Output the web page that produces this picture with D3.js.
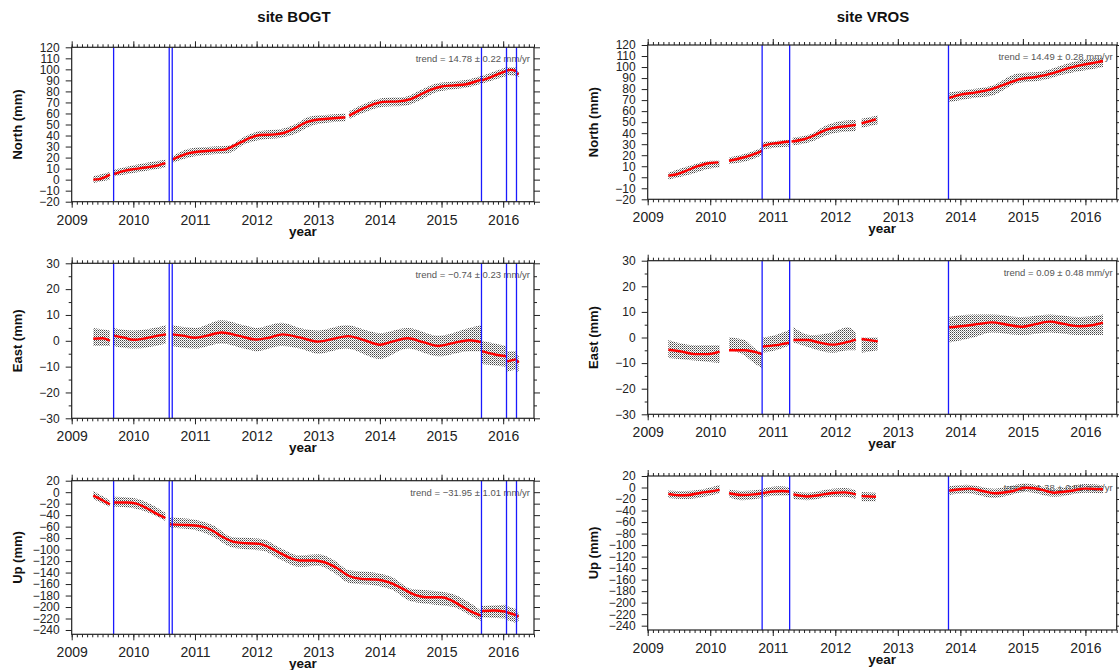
<!DOCTYPE html>
<html>
<head>
<meta charset="utf-8">
<script src="https://cdn.jsdelivr.net/npm/d3@7"></script>
<style>
  body { margin: 0; background: #fff; }
  svg { display: block; font-family: "Liberation Sans", Arial, sans-serif; }
</style>
</head>
<body>
<script>
// ---- data: fit curves [year, mm] and scatter envelopes [year, lo, hi], one array per segment ----
let bogtBreaks = [2009.68, 2010.582, 2010.631, 2015.648, 2016.054, 2016.216];
let vrosBreaks = [2010.83, 2011.27, 2013.81];

let bogtNorthFit = [
  [[2009.35, 0], [2009.45, 0.5], [2009.62, 4.5]],
  [[2009.68, 5], [2009.85, 8], [2010.0, 9.5], [2010.2, 11], [2010.4, 13], [2010.52, 15]],
  [[2010.63, 18], [2010.75, 21], [2010.9, 24], [2011.08, 25.5], [2011.3, 26.5], [2011.5, 27.5], [2011.6, 30], [2011.75, 34], [2011.9, 38], [2012.05, 40.5], [2012.3, 41], [2012.45, 42.5], [2012.6, 46], [2012.8, 52], [2013.0, 54.5], [2013.2, 55.5], [2013.44, 56.5]],
  [[2013.5, 58], [2013.6, 61], [2013.75, 65], [2013.9, 68.5], [2014.05, 70.5], [2014.3, 71], [2014.5, 73], [2014.65, 77], [2014.85, 82], [2015.0, 84.5], [2015.2, 85.5], [2015.4, 86.5], [2015.55, 89], [2015.64, 90.5]],
  [[2015.65, 90], [2015.8, 93], [2016.0, 97.5], [2016.05, 98.5]],
  [[2016.055, 99], [2016.12, 99.5], [2016.21, 98.5]],
  [[2016.22, 96.5], [2016.25, 95.5]]
];
let bogtNorthBand = [
  [[2009.35, -3, 3], [2009.62, 0, 7]],
  [[2009.68, 3, 9], [2010.0, 6, 13], [2010.52, 11, 18]],
  [[2010.63, 15, 21], [2010.9, 20, 28], [2011.3, 23, 30], [2011.55, 24, 31], [2011.8, 32, 39], [2012.05, 36, 44], [2012.4, 38, 46], [2012.65, 42, 51], [2012.85, 48, 57], [2013.2, 52, 59], [2013.44, 53, 60]],
  [[2013.5, 55, 62], [2013.8, 62, 70], [2014.05, 66, 74], [2014.4, 67, 75], [2014.65, 72, 81], [2014.9, 79, 87], [2015.2, 82, 89], [2015.45, 84, 91], [2015.64, 87, 94]],
  [[2015.65, 87, 94], [2016.05, 94, 102]],
  [[2016.055, 95, 102], [2016.21, 94, 102]],
  [[2016.22, 93, 99], [2016.25, 93, 98]]
];

let bogtEastFit = [
  [[2009.35, 0.8], [2009.5, 1], [2009.62, 0]],
  [[2009.68, 2], [2009.85, 1.2], [2010.0, 0.4], [2010.2, 1], [2010.4, 2], [2010.53, 2.5]],
  [[2010.63, 2.5], [2010.8, 2], [2011.0, 1.2], [2011.2, 2], [2011.43, 3.2], [2011.7, 2], [2012.0, 0.5], [2012.2, 1.2], [2012.42, 2.5], [2012.7, 1.3], [2013.0, -0.3], [2013.25, 0.8], [2013.48, 1.8], [2013.75, 0.2], [2014.0, -1.5], [2014.2, -0.3], [2014.45, 1], [2014.7, -0.5], [2014.95, -2], [2015.2, -0.8], [2015.45, 0.2], [2015.64, -0.5]],
  [[2015.65, -4], [2015.85, -5.2], [2016.05, -6]],
  [[2016.055, -8], [2016.15, -7.5], [2016.21, -7.2]],
  [[2016.22, -7.5], [2016.25, -8.5]]
];
let bogtEastBand = [
  [[2009.35, -2, 5], [2009.62, -2, 4]],
  [[2009.68, -2, 5], [2010.0, -3, 4], [2010.53, -1, 6]],
  [[2010.63, -2, 6], [2011.0, -3, 5], [2011.43, -1, 8], [2011.8, -3, 6], [2012.0, -4, 5], [2012.4, -2, 7], [2012.7, -3, 5], [2013.0, -5, 4], [2013.45, -3, 6], [2014.0, -7, 3], [2014.45, -3, 5], [2014.95, -6, 2], [2015.45, -4, 5], [2015.64, -4, 6]],
  [[2015.65, -9, 0], [2016.05, -10, -2]],
  [[2016.055, -12, -4], [2016.21, -11, -4]],
  [[2016.22, -12, -5], [2016.25, -12, -6]]
];

let bogtUpFit = [
  [[2009.35, -6], [2009.5, -14], [2009.62, -21]],
  [[2009.68, -18], [2009.9, -18], [2010.05, -20], [2010.2, -27], [2010.35, -36], [2010.52, -45]],
  [[2010.59, -56], [2010.8, -57], [2011.0, -58], [2011.15, -61], [2011.3, -68], [2011.45, -78], [2011.65, -87], [2011.85, -89], [2012.05, -90], [2012.2, -96], [2012.4, -107], [2012.55, -115], [2012.7, -119], [2012.95, -119], [2013.1, -122], [2013.3, -132], [2013.5, -146], [2013.7, -151], [2013.95, -152], [2014.15, -157], [2014.35, -167], [2014.55, -178], [2014.75, -183], [2015.0, -183], [2015.15, -188], [2015.35, -200], [2015.5, -209], [2015.64, -215]],
  [[2015.65, -207], [2015.85, -206], [2016.05, -208]],
  [[2016.055, -209], [2016.21, -214]],
  [[2016.22, -215], [2016.25, -217]]
];
let bogtUpBand = [
  [[2009.35, -12, 2], [2009.62, -26, -14]],
  [[2009.68, -25, -8], [2010.0, -28, -10], [2010.3, -38, -22], [2010.52, -50, -36]],
  [[2010.59, -62, -44], [2011.0, -66, -48], [2011.3, -78, -58], [2011.6, -96, -78], [2011.9, -100, -80], [2012.1, -102, -82], [2012.4, -118, -98], [2012.7, -130, -110], [2013.0, -128, -108], [2013.25, -140, -118], [2013.5, -158, -136], [2013.9, -162, -140], [2014.2, -170, -148], [2014.5, -190, -168], [2014.9, -196, -172], [2015.2, -200, -178], [2015.45, -214, -192], [2015.64, -224, -206]],
  [[2015.65, -218, -198], [2016.05, -220, -196]],
  [[2016.055, -222, -198], [2016.21, -228, -204]],
  [[2016.22, -225, -208], [2016.25, -225, -210]]
];

let vrosNorthFit = [
  [[2009.33, 1.5], [2009.45, 2.5], [2009.6, 5.5], [2009.8, 10], [2009.95, 12.5], [2010.13, 13.5]],
  [[2010.3, 15], [2010.5, 17.5], [2010.7, 21], [2010.83, 24]],
  [[2010.835, 28.5], [2011.0, 30.5], [2011.27, 32.5]],
  [[2011.3, 32.5], [2011.5, 34.5], [2011.7, 39], [2011.85, 43], [2012.0, 45], [2012.2, 46.5], [2012.33, 47.5]],
  [[2012.42, 49], [2012.55, 51], [2012.65, 52.5]],
  [[2013.82, 72], [2014.0, 75], [2014.25, 77], [2014.5, 80], [2014.7, 84], [2014.95, 89], [2015.2, 91], [2015.45, 94], [2015.7, 98.5], [2015.95, 102], [2016.2, 104.5], [2016.28, 105.5]]
];
let vrosNorthBand = [
  [[2009.33, -2, 4], [2009.7, 3, 11], [2010.0, 8, 15], [2010.15, 9, 15]],
  [[2010.3, 12, 18], [2010.6, 15, 22], [2010.83, 20, 27]],
  [[2010.835, 25, 32], [2011.05, 27, 33], [2011.27, 28, 34]],
  [[2011.32, 29, 36], [2011.6, 32, 39], [2011.85, 38, 47], [2012.1, 41, 51], [2012.33, 42, 52]],
  [[2012.42, 45, 53], [2012.68, 48, 56]],
  [[2013.82, 68, 77], [2014.2, 72, 80], [2014.5, 74, 83], [2014.9, 85, 94], [2015.3, 88, 96], [2015.7, 94, 103], [2016.0, 97, 107], [2016.28, 100, 108]]
];

let vrosEastFit = [
  [[2009.33, -4.8], [2009.55, -5.5], [2009.75, -6.5], [2009.95, -6.5], [2010.15, -5.5]],
  [[2010.3, -5], [2010.55, -5], [2010.83, -6.5]],
  [[2010.84, -3.5], [2011.05, -3], [2011.27, -2]],
  [[2011.33, -1], [2011.55, -1], [2011.75, -2], [2011.95, -2.8], [2012.15, -2], [2012.33, -0.8]],
  [[2012.42, -0.6], [2012.68, -1.5]],
  [[2013.82, 4], [2014.05, 4.5], [2014.3, 5.3], [2014.5, 5.9], [2014.75, 5], [2014.97, 4.2], [2015.2, 5.2], [2015.43, 6.2], [2015.65, 5.3], [2015.9, 4.4], [2016.1, 4.8], [2016.28, 5.8]]
];
let vrosEastBand = [
  [[2009.33, -8, -1], [2009.75, -9, -3], [2010.15, -10, -3]],
  [[2010.3, -5, 0], [2010.55, -7, -1], [2010.7, -10, -4], [2010.83, -12, -6]],
  [[2010.84, -6, 0], [2011.05, -5, 1], [2011.27, -3, 3]],
  [[2011.33, -2, 4], [2011.6, -4, 1], [2011.95, -6, 2], [2012.2, -5, 4], [2012.33, -5, 2]],
  [[2012.42, -6, 0], [2012.68, -5, 0]],
  [[2013.82, -2, 8], [2014.2, 0, 9], [2014.5, 2, 9], [2014.97, 1, 8], [2015.43, 2, 9], [2015.9, 1, 8], [2016.28, 1, 9]]
];

let vrosUpFit = [
  [[2009.33, -11], [2009.5, -13.5], [2009.65, -13], [2009.85, -9], [2010.0, -7], [2010.15, -4]],
  [[2010.3, -10], [2010.5, -13], [2010.7, -12], [2010.83, -10]],
  [[2010.835, -10], [2011.0, -7], [2011.15, -6], [2011.27, -7]],
  [[2011.33, -12], [2011.55, -15.5], [2011.75, -13], [2011.95, -9.5], [2012.15, -8.5], [2012.33, -12]],
  [[2012.42, -15], [2012.65, -16]],
  [[2013.82, -5.5], [2014.0, -3], [2014.15, -2], [2014.35, -6], [2014.55, -10], [2014.8, -7], [2015.05, -0.5], [2015.25, -2.5], [2015.5, -9], [2015.75, -6], [2016.0, -2], [2016.28, -3]]
];
let vrosUpBand = [
  [[2009.33, -18, -5], [2009.6, -20, -6], [2010.0, -14, 0], [2010.15, -10, 5]],
  [[2010.3, -17, -4], [2010.5, -22, -6], [2010.83, -18, -3]],
  [[2010.835, -17, -2], [2011.1, -14, 2], [2011.27, -14, 0]],
  [[2011.33, -20, -6], [2011.55, -22, -9], [2011.95, -16, -2], [2012.15, -16, -1], [2012.33, -20, -5]],
  [[2012.42, -24, -8], [2012.65, -24, -9]],
  [[2013.82, -13, 2], [2014.1, -10, 5], [2014.55, -18, -2], [2015.05, -8, 7], [2015.5, -16, -2], [2016.0, -9, 6], [2016.28, -10, 4]]
];

let sites = ["site BOGT", "site VROS"];
let trends = [
  ["trend = 14.78 \u00b1 0.22 mm/yr", "trend = \u22120.74 \u00b1 0.23 mm/yr", "trend = \u221231.95 \u00b1 1.01 mm/yr"],
  ["trend = 14.49 \u00b1 0.28 mm/yr", "trend = 0.09 \u00b1 0.48 mm/yr", "trend = 1.38 \u00b1 0.55 mm/yr"]
];
let yearTicks = [2009, 2010, 2011, 2012, 2013, 2014, 2015, 2016];
let northTicks = [-20, -10, 0, 10, 20, 30, 40, 50, 60, 70, 80, 90, 100, 110, 120];
let eastTicks = [-30, -20, -10, 0, 10, 20, 30];
let eastMinor = [-25, -15, -5, 5, 15, 25];
let upTicks = [-240, -220, -200, -180, -160, -140, -120, -100, -80, -60, -40, -20, 0, 20];

// ---- layout ----
let W = 1119, H = 670;
let svg = d3.select("body").append("svg").attr("width", W).attr("height", H);

// fine grain texture that stands in for the daily position dots
let pat = svg.append("defs").append("pattern")
  .attr("id", "speckle").attr("patternUnits", "userSpaceOnUse")
  .attr("width", 2).attr("height", 2);
pat.append("rect").attr("x", 0).attr("y", 0).attr("width", 1).attr("height", 1).attr("fill", "#444");
pat.append("rect").attr("x", 1).attr("y", 1).attr("width", 1).attr("height", 1).attr("fill", "#9a9a9a");

let cols = [
  { x0: 71.7, x1: 534, rows: [[47.3, 201.7], [263.3, 418.3], [480.7, 634.3]], title: 294 },
  { x0: 647.7, x1: 1116.7, rows: [[45, 199.3], [260.7, 414.3], [476, 630]], title: 873 }
];
let comps = [
  { name: "North (mm)", dom: [-20, 120], ticks: northTicks, minor: [] },
  { name: "East (mm)", dom: [-30, 30], ticks: eastTicks, minor: eastMinor },
  { name: "Up (mm)", dom: [-247.5, 20], ticks: upTicks, minor: [] }
];
let series = [
  [[bogtNorthFit, bogtNorthBand], [bogtEastFit, bogtEastBand], [bogtUpFit, bogtUpBand]],
  [[vrosNorthFit, vrosNorthBand], [vrosEastFit, vrosEastBand], [vrosUpFit, vrosUpBand]]
];
let breaks = [bogtBreaks, vrosBreaks];
let months = d3.range(0, 91).map(i => 2009 + i / 12);

let styleAxis = (g, size) => {
  g.select(".domain").remove();
  g.attr("font-family", null).attr("font-size", size);
  g.selectAll("line").attr("stroke", "#222");
  g.selectAll("text").attr("fill", "#222");
};

let drawPanel = (c, r) => {
  let col = cols[c], comp = comps[r];
  let [y0, y1] = col.rows[r];
  let x = d3.scaleLinear().domain([2009, 2016.5]).range([col.x0, col.x1]);
  let y = d3.scaleLinear().domain(comp.dom).range([y1, y0]);
  let [fit, band] = series[c][r];
  let g = svg.append("g");
  let clipId = "clip" + c + r;
  g.append("clipPath").attr("id", clipId).append("rect")
    .attr("x", col.x0).attr("y", y0).attr("width", col.x1 - col.x0).attr("height", y1 - y0);

  g.append("text")
    .attr("x", col.x1 - 4).attr("y", y0 + 15)
    .attr("text-anchor", "end").attr("font-size", 9.5).attr("fill", "#555")
    .text(trends[c][r]);

  let plot = g.append("g").attr("clip-path", "url(#" + clipId + ")");
  let area = d3.area().x(d => x(d[0])).y0(d => y(d[1])).y1(d => y(d[2])).curve(d3.curveMonotoneX);
  plot.selectAll(".band").data(band).join("path")
    .attr("d", area).attr("fill", "url(#speckle)");
  let line = d3.line().x(d => x(d[0])).y(d => y(d[1])).curve(d3.curveMonotoneX);
  plot.selectAll(".fit").data(fit).join("path")
    .attr("d", line).attr("fill", "none").attr("stroke", "#ff0000").attr("stroke-width", 2.4);
  plot.selectAll(".brk").data(breaks[c]).join("line")
    .attr("x1", d => x(d)).attr("x2", d => x(d)).attr("y1", y0).attr("y2", y1)
    .attr("stroke", "#1a1aff").attr("stroke-width", 1.3);

  // x axes
  g.append("g").attr("transform", "translate(0," + y1 + ")")
    .call(d3.axisBottom(x).tickValues(months).tickSize(3).tickSizeOuter(0).tickFormat(""))
    .call(a => styleAxis(a, 13));
  g.append("g").attr("transform", "translate(0," + y1 + ")")
    .call(d3.axisBottom(x).tickValues(yearTicks).tickSize(6).tickSizeOuter(0).tickPadding(7).tickFormat(d3.format("d")))
    .call(a => styleAxis(a, 14));
  g.append("g").attr("transform", "translate(0," + y0 + ")")
    .call(d3.axisTop(x).tickValues(months).tickSize(3).tickSizeOuter(0).tickFormat(""))
    .call(a => styleAxis(a, 13));
  g.append("g").attr("transform", "translate(0," + y0 + ")")
    .call(d3.axisTop(x).tickValues(yearTicks).tickSize(6).tickSizeOuter(0).tickFormat(""))
    .call(a => styleAxis(a, 13));

  // y axes
  g.append("g").attr("transform", "translate(" + col.x0 + ",0)")
    .call(d3.axisLeft(y).tickValues(comp.ticks).tickSize(6).tickSizeOuter(0).tickPadding(6))
    .call(a => styleAxis(a, 12));
  g.append("g").attr("transform", "translate(" + col.x1 + ",0)")
    .call(d3.axisRight(y).tickValues(comp.ticks).tickSize(6).tickSizeOuter(0).tickFormat(""))
    .call(a => styleAxis(a, 13));
  if (comp.minor.length) {
    g.append("g").attr("transform", "translate(" + col.x0 + ",0)")
      .call(d3.axisLeft(y).tickValues(comp.minor).tickSize(3).tickSizeOuter(0).tickFormat(""))
      .call(a => styleAxis(a, 13));
    g.append("g").attr("transform", "translate(" + col.x1 + ",0)")
      .call(d3.axisRight(y).tickValues(comp.minor).tickSize(3).tickSizeOuter(0).tickFormat(""))
      .call(a => styleAxis(a, 13));
  }

  g.append("rect")
    .attr("x", col.x0).attr("y", y0).attr("width", col.x1 - col.x0).attr("height", y1 - y0)
    .attr("fill", "none").attr("stroke", "#222").attr("stroke-width", 1.2);

  g.append("text")
    .attr("x", (col.x0 + col.x1) / 2).attr("y", y1 + 34)
    .attr("text-anchor", "middle").attr("font-weight", "bold").attr("font-size", 13.5).attr("fill", "#111")
    .text("year");
  g.append("text")
    .attr("transform", "translate(" + (col.x0 - 50) + "," + ((y0 + y1) / 2) + ") rotate(-90)")
    .attr("text-anchor", "middle").attr("font-weight", "bold").attr("font-size", 13).attr("fill", "#111")
    .text(comp.name);
};

cols.forEach((col, c) => {
  svg.append("text")
    .attr("x", col.title).attr("y", 22)
    .attr("text-anchor", "middle").attr("font-weight", "bold").attr("font-size", 15).attr("fill", "#111")
    .text(sites[c]);
  comps.forEach((comp, r) => drawPanel(c, r));
});
</script>
</body>
</html>
